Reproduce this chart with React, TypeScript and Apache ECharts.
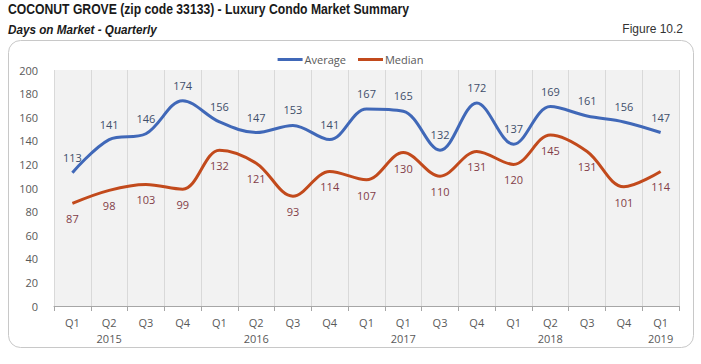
import React, { useEffect, useRef } from "react";
import * as echarts from "echarts";

const quarters = ["Q1", "Q2", "Q3", "Q4", "Q1", "Q2", "Q3", "Q4", "Q1", "Q1", "Q3", "Q4", "Q1", "Q2", "Q3", "Q4", "Q1"];
const years = ["", "2015", "", "", "", "2016", "", "", "", "2017", "", "", "", "2018", "", "", "2019"];
const average = [113, 141, 146, 174, 156, 147, 153, 141, 167, 165, 132, 172, 137, 169, 161, 156, 147];
const median = [87, 98, 103, 99, 132, 121, 93, 114, 107, 130, 110, 131, 120, 145, 131, 101, 114];

const categories = quarters.map((q, i) => (years[i] ? q + "\n" + years[i] : q));

const FONT = "'Open Sans', 'Liberation Sans', sans-serif";
const NARROW = "'Liberation Sans', Arial, sans-serif";

export default function App() {
  const ref = useRef<HTMLDivElement>(null);
  useEffect(() => {
    if (!ref.current) return;
    const chart = echarts.init(ref.current, null, { renderer: "svg" });
    chart.setOption({
      animation: false,
      backgroundColor: "#ffffff",
      graphic: [
        {
          type: "rect",
          shape: { x: 8.5, y: 40.5, width: 685, height: 307, r: 12 },
          style: { fill: "none", stroke: "#c8c8c8", lineWidth: 1 },
          z: -1,
        },
        {
          type: "text",
          x: 8,
          y: 2,
          scaleX: 0.87,
          style: { text: "COCONUT GROVE (zip code 33133) - Luxury Condo Market Summary", font: `bold 14px ${NARROW}`, fill: "#1a1a1a" },
        },
        {
          type: "text",
          x: 8,
          y: 23,
          scaleX: 0.9,
          style: { text: "Days on Market - Quarterly", font: `italic bold 13px ${NARROW}`, fill: "#1a1a1a" },
        },
        {
          type: "text",
          right: 18,
          top: 23,
          style: { text: "Figure 10.2", font: `12px ${NARROW}`, fill: "#333333" },
        },
      ],
      legend: {
        top: 49,
        left: "center",
        itemWidth: 25,
        itemHeight: 3,
        itemGap: 12,
        icon: "rect",
        textStyle: { fontFamily: FONT, fontSize: 11, color: "#595959", padding: [0, 0, 0, -3] },
        data: ["Average", "Median"],
      },
      grid: { left: 54, right: 22, top: 70, bottom: 58, containLabel: false, show: true, backgroundColor: "#f2f2f2", borderWidth: 0 },
      xAxis: {
        type: "category",
        data: categories,
        boundaryGap: true,
        axisLine: { lineStyle: { color: "#a6a6a6" } },
        axisTick: { show: true, lineStyle: { color: "#a6a6a6" } },
        axisLabel: { fontFamily: FONT, fontSize: 11, color: "#595959", lineHeight: 16, margin: 8, interval: 0 },
        splitLine: { show: true, lineStyle: { color: "#d9d9d9", width: 1 } },
      },
      yAxis: {
        type: "value",
        min: 0,
        max: 200,
        interval: 20,
        axisLine: { show: false },
        axisTick: { show: false },
        axisLabel: { fontFamily: FONT, fontSize: 11, color: "#595959", margin: 16 },
        splitLine: { show: false },
      },
      series: [
        {
          name: "Average",
          type: "line",
          data: average,
          smooth: 0.35,
          symbol: "circle",
          symbolSize: 0.01,
          showSymbol: true,
          lineStyle: { color: "#4068b8", width: 3 },
          itemStyle: { color: "#4068b8" },
          label: { show: true, position: "top", distance: 10, fontFamily: FONT, fontSize: 11, color: "#404e6a" },
        },
        {
          name: "Median",
          type: "line",
          data: median,
          smooth: 0.35,
          symbol: "circle",
          symbolSize: 0.01,
          showSymbol: true,
          lineStyle: { color: "#c24a1c", width: 3 },
          itemStyle: { color: "#c24a1c" },
          label: { show: true, position: "bottom", distance: 10, fontFamily: FONT, fontSize: 11, color: "#823d48" },
        },
      ],
    });
    return () => chart.dispose();
  }, []);
  return <div ref={ref} style={{ width: 701, height: 364, position: "absolute", left: 0, top: 0 }} />;
}
